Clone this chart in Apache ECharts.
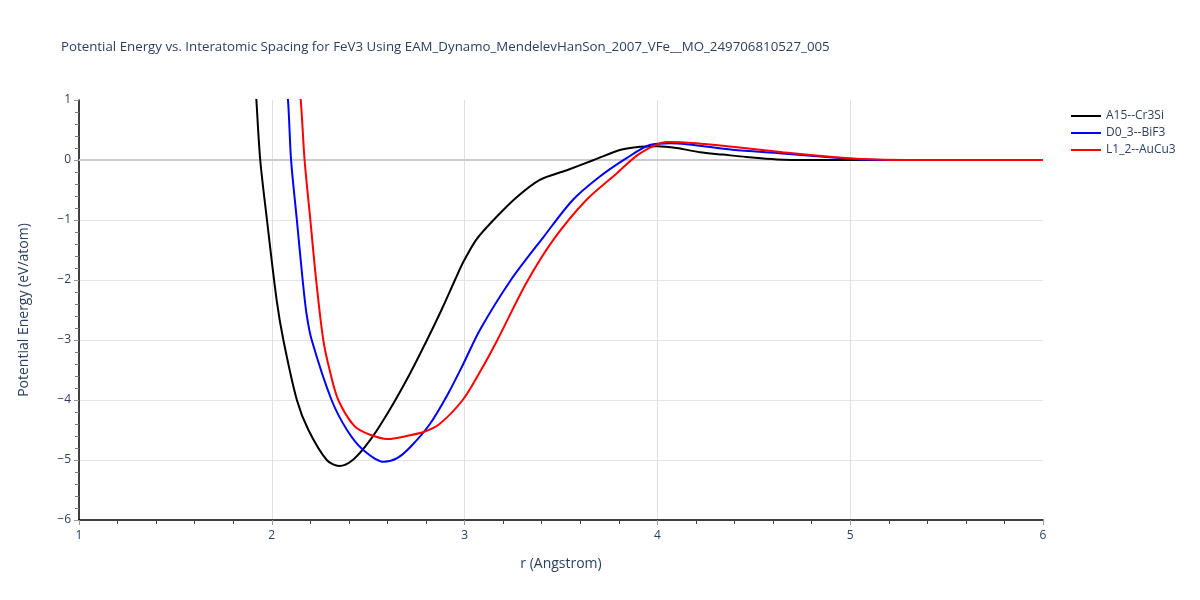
<!DOCTYPE html>
<html>
<head>
<meta charset="utf-8">
<script src="https://cdn.jsdelivr.net/npm/echarts@6/dist/echarts.min.js"></script>
<style>html,body{margin:0;padding:0;background:#fff}#c{width:1200px;height:600px}</style>
</head>
<body>
<div id="c"></div>
<script>
var seriesNames = ['A15--Cr3Si', 'D0_3--BiF3', 'L1_2--AuCu3'];
var a15R = [1.91, 1.92, 1.94, 1.975, 2.025, 2.06, 2.13, 2.19, 2.285, 2.35, 2.42, 2.51, 2.61, 2.71, 2.805, 2.88, 2.95, 2.99, 3.06, 3.15, 3.27, 3.39, 3.53, 3.67, 3.81, 3.91, 4.0, 4.1, 4.22, 4.34, 4.46, 4.62, 4.8, 5.0, 6.0];
var a15E = [1.5, 1.0, 0, -1, -2.33, -3, -4, -4.5, -5.0, -5.1, -5.0, -4.67, -4.17, -3.6, -3.0, -2.5, -2.0, -1.72, -1.33, -1.0, -0.62, -0.33, -0.17, 0, 0.17, 0.22, 0.23, 0.2, 0.13, 0.09, 0.05, 0.01, 0, 0, 0];
var d03R = [2.065, 2.084, 2.10, 2.13, 2.16, 2.18, 2.207, 2.31, 2.39, 2.47, 2.58, 2.65, 2.72, 2.82, 2.91, 2.99, 3.08, 3.24, 3.41, 3.56, 3.70, 3.84, 3.96, 4.07, 4.39, 4.65, 4.91, 5.05, 5.3, 6.0];
var d03E = [1.5, 1.0, 0, -1, -2, -2.56, -3.0, -4.0, -4.5, -4.82, -5.03, -4.97, -4.78, -4.4, -3.92, -3.42, -2.83, -2.0, -1.28, -0.67, -0.28, 0.03, 0.25, 0.28, 0.17, 0.11, 0.04, 0.01, 0, 0];
var l12R = [2.13, 2.15, 2.17, 2.20, 2.23, 2.267, 2.30, 2.345, 2.43, 2.51, 2.60, 2.70, 2.79, 2.87, 2.99, 3.08, 3.17, 3.32, 3.46, 3.63, 3.79, 3.91, 4.05, 4.2, 4.39, 4.65, 4.91, 5.03, 5.3, 6.0];
var l12E = [1.5, 1.0, 0, -1, -2, -3.0, -3.5, -4.0, -4.44, -4.58, -4.65, -4.6, -4.53, -4.4, -4.0, -3.53, -3.0, -2.05, -1.33, -0.67, -0.22, 0.11, 0.3, 0.28, 0.22, 0.13, 0.05, 0.02, 0, 0];
var xTicks = [1, 2, 3, 4, 5, 6];
var yTicks = [-6, -5, -4, -3, -2, -1, 0, 1];

function pairs(r, e) { return r.map(function (v, i) { return [v, e[i]]; }); }
var font = '"Open Sans", verdana, arial, sans-serif';
var txt = '#2a3f5f';
var colors = ['#000000', '#0000ff', '#ff0000'];
var datas = [pairs(a15R, a15E), pairs(d03R, d03E), pairs(l12R, l12E)];

var series = datas.map(function (d, i) {
  var s = {
    name: seriesNames[i], type: 'line', data: d, smooth: 0.3,
    showSymbol: false, symbol: 'none', clip: true,
    lineStyle: { color: colors[i], width: 2 }, itemStyle: { color: colors[i] }, z: 5 + i
  };
  if (i === 0) {
    s.markLine = { silent: true, symbol: 'none', label: { show: false },
      lineStyle: { color: '#cccccc', width: 2, type: 'solid' }, data: [{ yAxis: 0 }], z: 1 };
  }
  return s;
});

var chart = echarts.init(document.getElementById('c'));
chart.setOption({
  backgroundColor: '#ffffff',
  animation: false,
  title: {
    text: 'Potential Energy vs. Interatomic Spacing for FeV3 Using EAM_Dynamo_MendelevHanSon_2007_VFe__MO_249706810527_005',
    left: 56, top: 36,
    textStyle: { fontFamily: font, fontSize: 13.3, fontWeight: 'normal', color: txt }
  },
  legend: {
    orient: 'vertical', left: 1066, top: 105, itemWidth: 30, itemHeight: 14, itemGap: 5,
    icon: 'path://M0,6 L30,6 L30,8 L0,8 Z',
    textStyle: { fontFamily: font, fontSize: 12, color: txt },
    data: seriesNames
  },
  grid: { left: 79, right: 157, top: 100, bottom: 80, containLabel: false },
  xAxis: {
    type: 'value', min: xTicks[0], max: xTicks[xTicks.length - 1], interval: 1,
    name: 'r (Angstrom)', nameLocation: 'middle', nameGap: 37,
    nameTextStyle: { fontFamily: font, fontSize: 14, color: txt },
    axisLine: { show: true, onZero: false, lineStyle: { color: '#000', width: 1.5 } },
    axisTick: { show: true, length: 5, lineStyle: { color: '#999' } },
    minorTick: { show: true, splitNumber: 5, length: 4, lineStyle: { color: '#444' } },
    axisLabel: { fontFamily: font, fontSize: 12, color: txt, margin: 10 },
    splitLine: { show: true, showMinLine: false, showMaxLine: false, lineStyle: { color: '#e0e0e0', width: 1 } }
  },
  yAxis: {
    type: 'value', min: yTicks[0], max: yTicks[yTicks.length - 1], interval: 1,
    name: 'Potential Energy (eV/atom)', nameLocation: 'middle', nameGap: 48,
    nameTextStyle: { fontFamily: font, fontSize: 14, color: txt },
    axisLine: { show: true, onZero: false, lineStyle: { color: '#000', width: 1.5 } },
    axisTick: { show: true, length: 5, lineStyle: { color: '#999' } },
    minorTick: { show: true, splitNumber: 5, length: 4, lineStyle: { color: '#777' } },
    axisLabel: { fontFamily: font, fontSize: 12, color: txt, margin: 8,
      formatter: function (v) { return String(v).replace('-', '\u2212'); } },
    splitLine: { show: true, showMinLine: false, showMaxLine: false, lineStyle: { color: '#e5e5e5', width: 1 } }
  },
  series: series
});
</script>
</body>
</html>
